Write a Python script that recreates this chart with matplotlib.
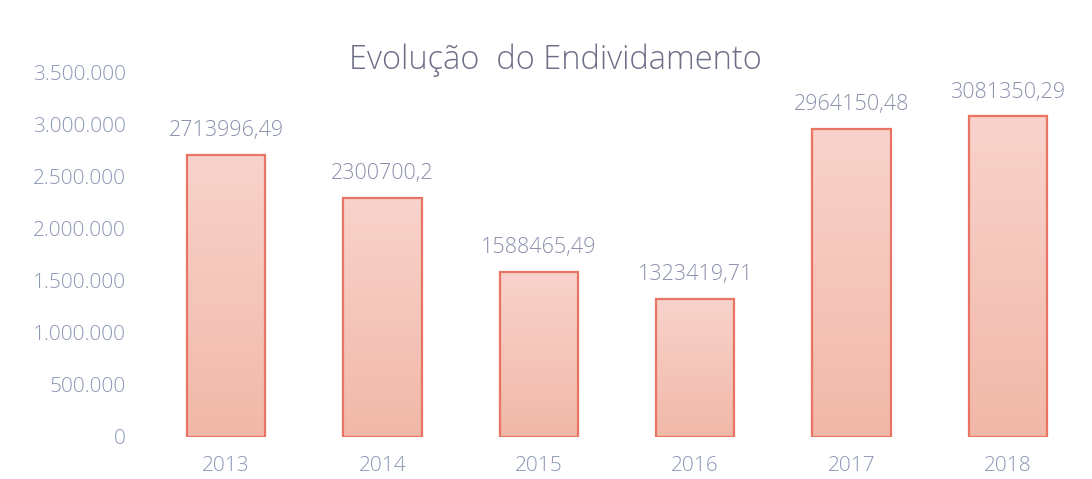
import numpy as np
import matplotlib.pyplot as plt
from matplotlib.colors import LinearSegmentedColormap

years = ["2013", "2014", "2015", "2016", "2017", "2018"]
values = [2713996.49, 2300700.2, 1588465.49, 1323419.71, 2964150.48, 3081350.29]
labels = ["2713996,49", "2300700,2", "1588465,49", "1323419,71", "2964150,48", "3081350,29"]
yticks = [0, 500000, 1000000, 1500000, 2000000, 2500000, 3000000, 3500000]
ytick_labels = ["0", "500.000", "1.000.000", "1.500.000", "2.000.000",
                "2.500.000", "3.000.000", "3.500.000"]

plt.rcParams['font.family'] = ['Open Sans', 'DejaVu Sans']

fig = plt.figure(figsize=(10.92, 4.79), dpi=100)
ax = fig.add_axes([0.1355, 0.0877, 0.859, 0.76])

x = np.arange(len(years))
w = 0.5
bars = ax.bar(x, values, width=w, facecolor="none", edgecolor="#ea7464", linewidth=1.6, zorder=3)

#-gradient fill inside each bar
cmap = LinearSegmentedColormap.from_list("pk", ["#f1b8a8", "#f8d3cc"])
grad = np.linspace(0, 1, 256).reshape(-1, 1)
for b in bars:
    x0 = b.get_x()
    h = b.get_height()
    im = ax.imshow(grad, cmap=cmap, aspect="auto", origin="lower",
                   extent=[x0, x0 + w, 0, h], zorder=2)
    im.set_clip_path(b)

for xi, v, lab in zip(x, values, labels):
    ax.annotate(lab, (xi, v), xytext=(0, 10), textcoords="offset points",
                ha="center", va="bottom", fontsize=15.5, color="#8a91ab",
                fontweight="light")

ax.set_xlim(-0.5, len(years) - 0.5)
ax.set_ylim(0, 3500000)
ax.set_xticks(x)
ax.set_xticklabels(years, fontweight="light")
ax.set_yticks(yticks)
ax.set_yticklabels(ytick_labels, fontweight="light")
ax.tick_params(axis="both", length=0, labelsize=15, labelcolor="#8a96b4")
ax.tick_params(axis="x", pad=14)
ax.tick_params(axis="y", pad=16)
for s in ax.spines.values():
    s.set_visible(False)

fig.text(0.509, 0.875, "Evolução  do Endividamento", ha="center", va="center",
         fontsize=23.5, color="#6c6e86", fontweight="light")

fig.savefig("out.png", dpi=100)
